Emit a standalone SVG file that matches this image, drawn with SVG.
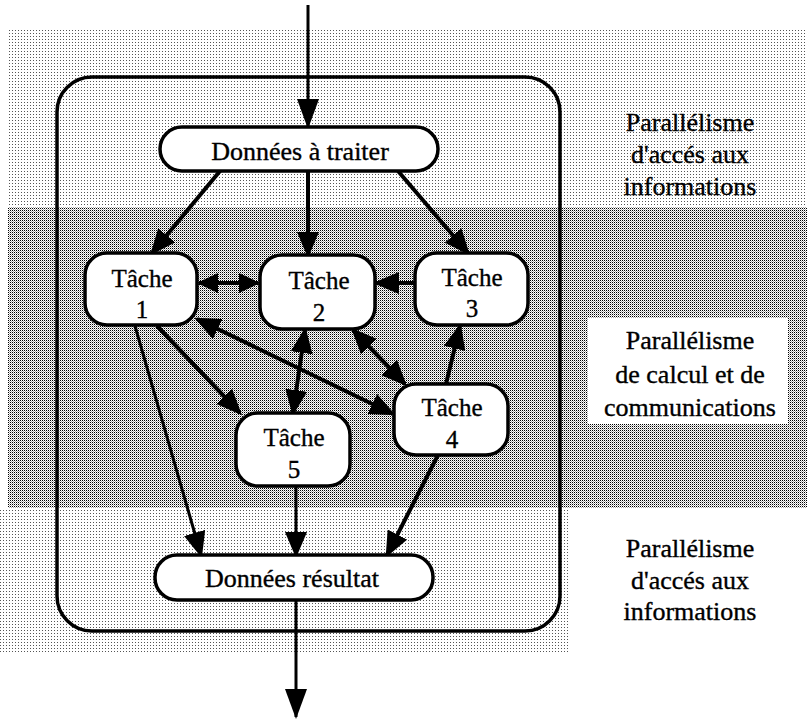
<svg xmlns="http://www.w3.org/2000/svg" width="807" height="719" viewBox="0 0 807 719">
<defs>
<pattern id="dark" width="2" height="2" patternUnits="userSpaceOnUse">
<rect width="2" height="2" fill="#fff"/>
<rect x="0" y="0" width="1" height="1" fill="#000"/>
<rect x="1" y="1" width="1" height="1" fill="#aaa"/>
</pattern>
<pattern id="light" width="3" height="3" patternUnits="userSpaceOnUse">
<rect width="3" height="3" fill="#fff"/>
<rect x="0" y="0" width="1" height="1" fill="#555"/>
</pattern>
<marker id="ah" viewBox="0 0 26 22" refX="23" refY="11" markerWidth="26" markerHeight="22" markerUnits="userSpaceOnUse" orient="auto-start-reverse">
<path d="M0,0 L26,11 L0,22 z" fill="#000"/>
</marker>
<marker id="ahs" viewBox="0 0 21 20" refX="19" refY="10" markerWidth="21" markerHeight="20" markerUnits="userSpaceOnUse" orient="auto-start-reverse">
<path d="M0,0 L21,10 L0,20 z" fill="#000"/>
</marker>
<marker id="ahb" viewBox="0 0 30 22" refX="28" refY="11" markerWidth="30" markerHeight="22" markerUnits="userSpaceOnUse" orient="auto">
<path d="M0,0 L30,11 L0,22 z" fill="#000"/>
</marker>
</defs>
<style>
.node rect { fill: #fff; stroke: #000; stroke-width: 3.5; }
text { font-family: "Liberation Serif", "Times New Roman", serif; fill: #000; stroke: #000; stroke-width: 0.35; text-anchor: middle; }
.t { font-size: 25px; }
.lbl { font-size: 26px; }
.side { font-size: 26px; }
.c { fill: none; stroke: #000; stroke-width: 4; marker-end: url(#ah); }
.thin { stroke-width: 3; }
.bi { marker-start: url(#ah); }
</style>

<g id="background">
<rect x="8" y="30" width="799" height="177" fill="url(#light)"/>
<rect x="8" y="207" width="799" height="301" fill="url(#dark)"/>
<rect x="0" y="508" width="570" height="145" fill="url(#light)"/>
<rect x="588" y="318" width="200" height="106" fill="#fff"/>
</g>

<rect id="frame" x="57" y="77" width="503" height="554" rx="35" fill="none" stroke="#000" stroke-width="3.5"/>

<g id="connectors">
<path d="M308,5 L308,127" fill="none" stroke="#000" stroke-width="3" marker-end="url(#ahb)"/>
<path class="c" d="M220,171 L152,253"/>
<path class="c" d="M308,171 L308,255"/>
<path class="c" d="M398,171 L468,253"/>
<path d="M199,283 L258,283" fill="none" stroke="#000" stroke-width="4" marker-start="url(#ahs)" marker-end="url(#ahs)"/>
<path class="c" d="M415,283 L376,283"/>
<path class="c bi" d="M197,319 L393,414"/>
<path class="c bi" d="M305,330 L293,413"/>
<path class="c bi" d="M353,330 L405,384"/>
<path class="c" d="M446,384 L460,326"/>
<path class="c" d="M157,326 L240,413"/>
<path class="c thin" d="M135,326 L201,555"/>
<path class="c thin" d="M296,486 L296,555"/>
<path class="c" d="M438,455 L387,555"/>
<path d="M296,600 L296,717" fill="none" stroke="#000" stroke-width="3" marker-end="url(#ahb)"/>
</g>

<g id="donnees-a-traiter" class="node">
<rect x="160" y="127" width="278" height="44" rx="22"/>
<text class="lbl" x="300" y="160">Données à traiter</text>
</g>
<g id="tache1" class="node">
<rect x="85" y="253" width="112" height="72" rx="22"/>
<text class="t" x="142" y="287">Tâche</text>
<text class="t" x="142" y="318">1</text>
</g>
<g id="tache2" class="node">
<rect x="260" y="255" width="115" height="74" rx="22"/>
<text class="t" x="319" y="289">Tâche</text>
<text class="t" x="319" y="321">2</text>
</g>
<g id="tache3" class="node">
<rect x="415" y="253" width="113" height="72" rx="22"/>
<text class="t" x="472" y="286">Tâche</text>
<text class="t" x="472" y="317">3</text>
</g>
<g id="tache4" class="node">
<rect x="394" y="384" width="114" height="71" rx="22"/>
<text class="t" x="452" y="416">Tâche</text>
<text class="t" x="452" y="448">4</text>
</g>
<g id="tache5" class="node">
<rect x="236" y="413" width="114" height="73" rx="22"/>
<text class="t" x="294" y="446">Tâche</text>
<text class="t" x="294" y="478">5</text>
</g>
<g id="donnees-resultat" class="node">
<rect x="155" y="555" width="278" height="45" rx="22"/>
<text class="lbl" x="292" y="587">Données résultat</text>
</g>

<g id="labels">
<text class="side" x="690" y="131">Parallélisme</text>
<text class="side" x="690" y="163">d'accés aux</text>
<text class="side" x="690" y="195">informations</text>
<text class="side" x="690" y="349">Parallélisme</text>
<text class="side" x="690" y="383">de calcul et de</text>
<text class="side" x="690" y="416">communications</text>
<text class="side" x="690" y="557">Parallélisme</text>
<text class="side" x="690" y="589">d'accés aux</text>
<text class="side" x="690" y="620">informations</text>
</g>
</svg>
